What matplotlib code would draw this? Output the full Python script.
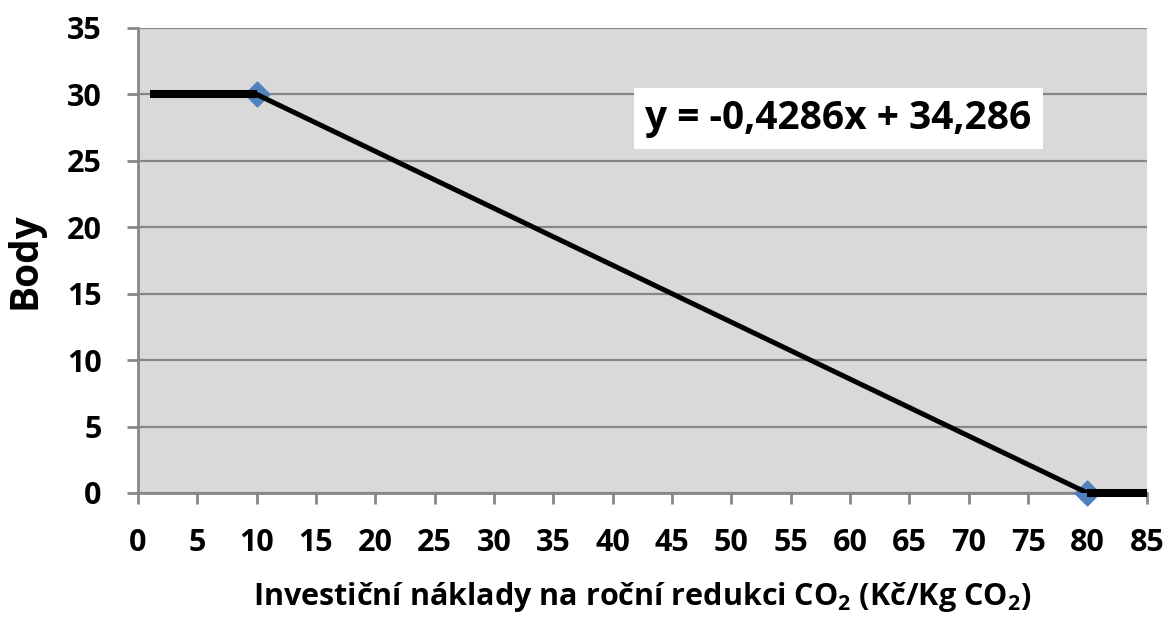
import matplotlib
matplotlib.use("Agg")
from matplotlib import pyplot as plt

plt.rcParams['font.family'] = ['Open Sans', 'DejaVu Sans']
plt.rcParams['mathtext.fontset'] = 'custom'
plt.rcParams['mathtext.rm'] = 'Open Sans:bold'
plt.rcParams['mathtext.bf'] = 'Open Sans:bold'

# data
flat_x = [1, 10]
flat_y = [30, 30]
slope_x = [10, 80]
slope_y = [30, 0]
tail_x = [80, 85]
tail_y = [0, 0]
pts_x = [10, 80]
pts_y = [30, 0]
equation = "y = -0,4286x + 34,286"
x_ticks = list(range(0, 90, 5))
y_ticks = list(range(0, 40, 5))

fig = plt.figure(figsize=(11.69, 6.19), dpi=100)
ax = fig.add_axes([0.118, 0.2036, 0.863, 0.7512])
ax.set_facecolor('#d9d9d9')

ax.scatter(pts_x, pts_y, marker='D', s=160, color='#4f81bd', zorder=3, clip_on=False)
ax.plot(flat_x, flat_y, color='black', lw=5.8, solid_capstyle='butt', zorder=4)
ax.plot(slope_x, slope_y, color='black', lw=3.6, zorder=4)
ax.plot(tail_x, tail_y, color='black', lw=5.8, solid_capstyle='butt', zorder=4, clip_on=False)

ax.set_xlim(0, 85)
ax.set_ylim(0, 35)
ax.set_xticks(x_ticks, labels=[str(v) for v in x_ticks], fontsize=22, fontweight='bold')
ax.set_yticks(y_ticks, labels=[str(v) for v in y_ticks], fontsize=22, fontweight='bold')
ax.grid(axis='y', color='#878787', lw=1.6)
ax.set_axisbelow(True)
for s in ['top', 'right']:
    ax.spines[s].set_visible(False)
for s in ['left', 'bottom']:
    ax.spines[s].set_color('#878787')
    ax.spines[s].set_linewidth(2)
ax.tick_params(axis='both', colors='#878787', width=2, length=8, labelcolor='black')
ax.tick_params(axis='x', pad=17)
ax.tick_params(axis='y', pad=18)

ax.text(59, 28.2, equation, fontsize=28, fontweight='bold', ha='center', va='center',
        bbox=dict(facecolor='white', edgecolor='none', pad=8), zorder=5)

ax.set_ylabel('Body', fontsize=28, fontweight='bold', labelpad=16)
ax.set_xlabel(r'Investiční náklady na roční redukci CO$_{\mathrm{2}}$ (Kč/Kg CO$_{\mathrm{2}}$)',
              fontsize=22, fontweight='bold', labelpad=16)

fig.savefig('out.png', dpi=100)
